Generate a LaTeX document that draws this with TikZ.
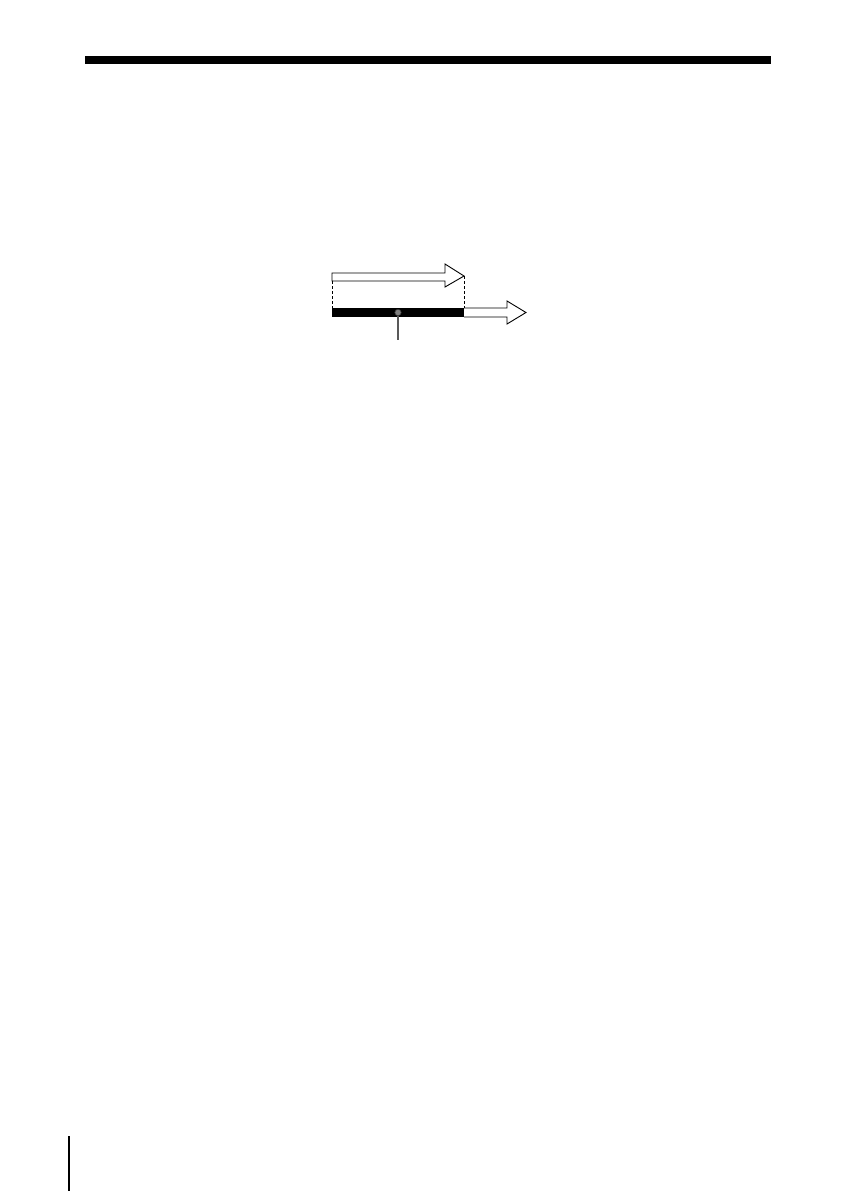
\documentclass[tikz,border=0pt]{standalone}
\usepackage{tikz}

\begin{document}
\begin{tikzpicture}[x=1pt,y=-1pt,line join=miter]
  \useasboundingbox (0,0) rectangle (841,1191);

  \coordinate (S) at (332,308);   % start of the black bar
  \coordinate (T) at (464,317);   % end of the black bar
  \coordinate (D) at (398,312.5); % grey dot
  \coordinate (L) at (398,340);   % end of the grey lead

  % Heading rule and page edge mark
  \fill (85,56) rectangle (771,64);
  \draw[line width=1.5pt] (69,1136) -- (69,1191);

  % Upper arrow
  \draw[fill=white,line width=0.9pt]
  (332,273) -- (445,273) -- (445,264) -- (464,276) -- (445,287) -- (445,281) -- (332,281) -- cycle;

  % Dashed guides
  \draw[dashed,dash pattern=on 3pt off 2pt,line width=0.8pt] (332,281) -- (332,308);
  \draw[dashed,dash pattern=on 3pt off 2pt,line width=0.8pt] (464,276) -- (464,308);

  % Lower arrow continuing the bar
  \draw[fill=white,line width=0.9pt]
  (464,308) -- (507,308) -- (507,301) -- (526,312.5) -- (507,324) -- (507,317) -- (464,317);

  % Black bar
  \fill (S) rectangle (T);

  % Marker
  \draw[gray!70!black,line width=1.6pt] (D) -- (L);
  \draw[fill=gray,draw=gray!40!black,line width=0.6pt] (D) circle (3.2);
\end{tikzpicture}
\end{document}
